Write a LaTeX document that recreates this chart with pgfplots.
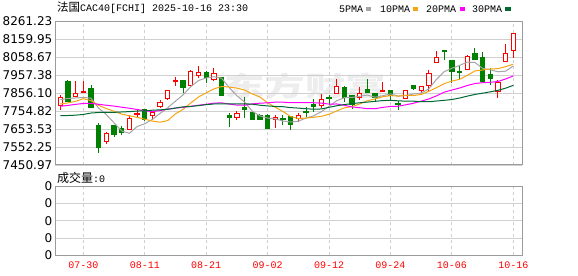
\documentclass[border=0pt]{standalone}
\usepackage{fontspec}
\setmainfont{DejaVu Sans}
\newfontfamily\cjk{Noto Sans CJK SC}
\newfontfamily\mono{Liberation Mono}
\usepackage{pgfplots}
\usepackage{pgfplotstable}
\pgfplotsset{compat=1.18}

\definecolor{upred}{RGB}{255,0,0}
\definecolor{dngreen}{RGB}{0,128,0}
\definecolor{ma5}{RGB}{165,165,165}
\definecolor{ma10}{RGB}{245,165,20}
\definecolor{ma20}{RGB}{255,0,255}
\definecolor{ma30}{RGB}{0,105,50}
\definecolor{gridc}{RGB}{208,208,208}
\definecolor{framec}{RGB}{155,155,155}

\pgfplotstableread{
i o h l c s
-3 7787.4 7847.6 7763.0 7832.6 u
-2 7922.8 7930.3 7806.2 7810.0 d
-1 7836.3 7926.6 7834.4 7855.1 u
0 7860.8 7922.8 7860.8 7864.6 u
1 7879.6 7904.0 7772.4 7776.2 d
2 7674.7 7686.0 7518.6 7550.6 d
3 7584.4 7635.2 7571.2 7629.5 u
4 7670.9 7674.7 7610.7 7622.0 d
5 7657.7 7670.9 7622.0 7635.2 d
6 7652.0 7734.8 7648.3 7710.4 u
7 7734.8 7768.7 7716.0 7742.3 u
8 7763.0 7768.7 7701.0 7706.6 d
9 7731.0 7753.6 7706.6 7748.0 u
10 7780.0 7817.5 7772.4 7802.5 u
11 7825.0 7875.8 7819.4 7870.0 u
12 7922.8 7945.4 7898.4 7928.5 u
13 7928.5 7932.2 7857.0 7885.2 d
14 7898.4 7988.6 7894.6 7979.2 u
15 7956.6 8007.4 7941.6 7973.6 u
16 7973.6 7979.2 7913.4 7941.6 d
17 7930.3 7998.0 7922.8 7964.2 u
18 7945.4 7949.2 7840.1 7843.8 d
19 7727.3 7746.1 7667.2 7716.0 d
20 7716.0 7753.6 7704.7 7742.3 u
21 7776.2 7832.6 7716.0 7764.9 d
22 7744.2 7750.0 7702.8 7706.6 d
23 7731.0 7738.6 7704.7 7708.5 d
24 7731.0 7738.6 7652.1 7655.8 d
25 7704.7 7734.8 7659.6 7719.8 u
26 7710.4 7731.0 7674.7 7704.7 d
27 7721.7 7725.4 7648.3 7678.4 d
28 7710.4 7744.2 7691.6 7731.0 u
29 7753.6 7780.0 7719.8 7746.1 d
30 7789.3 7823.2 7749.9 7781.8 d
31 7787.4 7851.4 7772.4 7821.3 u
32 7830.7 7843.8 7791.2 7825.0 d
33 7855.1 7936.0 7851.4 7894.6 u
34 7889.0 7894.6 7806.2 7828.8 d
35 7840.1 7843.8 7768.7 7791.2 d
36 7828.8 7889.0 7819.4 7853.3 u
37 7874.0 7936.0 7855.1 7859.0 d
38 7851.4 7851.4 7810.0 7832.6 d
39 7866.4 7919.0 7862.6 7872.0 u
40 7872.0 7875.8 7813.8 7843.8 d
41 7798.7 7813.8 7763.0 7791.2 d
42 7827.0 7875.8 7825.0 7872.0 u
43 7900.3 7900.3 7875.8 7879.6 d
44 7870.0 7896.5 7857.0 7892.7 u
45 7898.4 7984.9 7870.0 7968.0 u
46 8030.0 8092.0 8028.1 8058.2 u
47 8095.8 8097.7 8045.0 8088.3 d
48 8039.4 8039.4 7913.4 7975.5 d
49 7979.2 8013.0 7932.2 7971.7 d
50 7988.6 8069.5 7984.9 8063.8 u
51 8077.0 8110.8 8041.3 8045.0 d
52 8054.4 8086.4 7913.4 7922.8 d
53 7958.5 7998.0 7904.0 7937.9 d
54 7866.4 7932.2 7828.8 7913.4 u
55 8035.6 8133.4 8030.0 8080.8 u
56 8097.7 8195.4 8054.4 8193.5 u
}\candles

\pgfplotsset{
  wicku/.style={draw=upred, line width=1bp, mark=none},
  wickd/.style={draw=dngreen, line width=1bp, mark=none},
  bodyu/.style={draw=upred, fill=white, line width=1bp, mark=none},
  bodyd/.style={draw=dngreen, fill=dngreen, line width=1bp, mark=none},
}

\begin{document}
\begin{tikzpicture}
\useasboundingbox (0,0) rectangle (578bp,-276bp);

% watermark
\node[anchor=center, text=black!7, xscale=1.5, font=\cjk\bfseries\fontsize{27bp}{27bp}\selectfont] at (305bp,-86bp) {东方财富};

% title
\node[anchor=west, inner sep=0pt] at (57bp,-8bp) {{\cjk\fontsize{11.5bp}{12bp}\selectfont 法国}{\mono\fontsize{10bp}{12bp}\selectfont CAC40[FCHI] 2025-10-16 23:30}};

% legend
\node[anchor=west, inner sep=0pt, font=\mono\fontsize{10bp}{12bp}\selectfont] at (339bp,-9bp) {5PMA};
\node[anchor=west, inner sep=0pt] at (366bp,-9.3bp) {\textcolor{ma5}{\rule{5bp}{4bp}}};
\node[anchor=west, inner sep=0pt, font=\mono\fontsize{10bp}{12bp}\selectfont] at (380bp,-9bp) {10PMA};
\node[anchor=west, inner sep=0pt] at (413bp,-9.3bp) {\textcolor{ma10}{\rule{5bp}{4bp}}};
\node[anchor=west, inner sep=0pt, font=\mono\fontsize{10bp}{12bp}\selectfont] at (426bp,-9bp) {20PMA};
\node[anchor=west, inner sep=0pt] at (460bp,-9.3bp) {\textcolor{ma20}{\rule{5bp}{4bp}}};
\node[anchor=west, inner sep=0pt, font=\mono\fontsize{10bp}{12bp}\selectfont] at (472bp,-9bp) {30PMA};
\node[anchor=west, inner sep=0pt] at (505bp,-9.3bp) {\textcolor{ma30}{\rule{6bp}{4bp}}};

% volume caption
\node[anchor=west, inner sep=0pt] at (57bp,-178bp) {{\cjk\fontsize{12bp}{12bp}\selectfont 成交量}{\mono\fontsize{10bp}{12bp}\selectfont :0}};

\begin{axis}[
  at={(55.3bp,-21.3bp)}, anchor=north west,
  scale only axis, width=467bp, height=143.7bp,
  xmin=-3.65, xmax=57.17, ymin=7450.97, ymax=8261.23,
  axis line style={framec, line width=1bp},
  xtick={0,8,16,24,32,40,48,56}, xticklabels={},
  ytick={7450.97,7552.25,7653.53,7754.82,7856.10,7957.38,8058.67,8159.95,8261.23},
  yticklabels={7450.97,7552.25,7653.53,7754.82,7856.10,7957.38,8058.67,8159.95,8261.23},
  yticklabel style={anchor=east, inner sep=0pt, xshift=-2.8bp, text=black, font=\fontsize{12bp}{12bp}\selectfont},
  grid=major,
  x grid style={gridc, dash pattern=on 3bp off 3bp, line width=0.9bp},
  y grid style={gridc, line width=0.9bp},
  major tick length=0pt, tick style={draw=none},
]
\pgfplotsinvokeforeach{0,...,59}{%
  \pgfplotstablegetelem{#1}{i}\of\candles \let\ci\pgfplotsretval
  \pgfplotstablegetelem{#1}{o}\of\candles \let\co\pgfplotsretval
  \pgfplotstablegetelem{#1}{h}\of\candles \let\ch\pgfplotsretval
  \pgfplotstablegetelem{#1}{l}\of\candles \let\cl\pgfplotsretval
  \pgfplotstablegetelem{#1}{c}\of\candles \let\cc\pgfplotsretval
  \pgfplotstablegetelem{#1}{s}\of\candles \let\cs\pgfplotsretval
  \pgfmathsetmacro\xl{\ci-0.28}%
  \pgfmathsetmacro\xr{\ci+0.28}%
  \edef\tmp{%
    \noexpand\addplot[wick\cs] coordinates {(\ci,\cl) (\ci,\ch)};%
    \noexpand\addplot[body\cs] coordinates {(\xl,\co) (\xr,\co) (\xr,\cc) (\xl,\cc)} -- cycle;%
  }\tmp
}
% MA5
\addplot[ma5, line width=1bp, mark=none] coordinates {
(-3,7819) (-2,7826) (-1,7829) (0,7832) (1,7827.7) (2,7771.3) (3,7735.2) (4,7688.6) (5,7642.7) (6,7629.5) (7,7667.9) (8,7683.3) (9,7708.5) (10,7742.0) (11,7773.9) (12,7811.1) (13,7846.8) (14,7893.1) (15,7927.3) (16,7941.6) (17,7948.8) (18,7940.5) (19,7887.8) (20,7841.6) (21,7806.2) (22,7754.7) (23,7727.7) (24,7715.6) (25,7711.1) (26,7699.1) (27,7693.4) (28,7697.9) (29,7716.0) (30,7728.4) (31,7751.7) (32,7781.0) (33,7813.8) (34,7830.3) (35,7832.2) (36,7838.6) (37,7845.4) (38,7833.0) (39,7841.6) (40,7852.1) (41,7839.7) (42,7842.3) (43,7851.7) (44,7855.9) (45,7880.7) (46,7934.1) (47,7977.4) (48,7996.5) (49,8012.3) (50,8031.5) (51,8028.9) (52,7995.8) (53,7988.2) (54,7976.6) (55,7980.0) (56,8009.7)
};
% MA10
\addplot[ma10, line width=1bp, mark=none] coordinates {
(-3,7795) (-2,7801) (-1,7810) (0,7825) (1,7814) (2,7787) (3,7769) (4,7754) (5,7738) (6,7728.6) (7,7719.6) (8,7709.3) (9,7698.5) (10,7692.3) (11,7701.7) (12,7739.5) (13,7765.1) (14,7800.8) (15,7834.6) (16,7857.8) (17,7879.9) (18,7893.7) (19,7890.5) (20,7884.4) (21,7873.9) (22,7851.7) (23,7834.1) (24,7801.7) (25,7776.4) (26,7752.7) (27,7724.1) (28,7712.8) (29,7715.8) (30,7719.8) (31,7725.4) (32,7737.2) (33,7755.9) (34,7773.2) (35,7780.3) (36,7795.2) (37,7813.2) (38,7823.4) (39,7836.0) (40,7842.2) (41,7839.2) (42,7843.9) (43,7842.4) (44,7848.7) (45,7866.4) (46,7886.9) (47,7909.8) (48,7924.1) (49,7934.1) (50,7956.1) (51,7981.5) (52,7986.6) (53,7992.4) (54,7994.5) (55,8005.7) (56,8019.3)
};
% MA20
\addplot[ma20, line width=1bp, mark=none] coordinates {
(-3,7782) (-2,7787) (-1,7793) (0,7798) (1,7799) (2,7793) (3,7788) (4,7783) (5,7777) (6,7771) (7,7764) (8,7757) (9,7752) (10,7758) (11,7766) (12,7772) (13,7776) (14,7782) (15,7788) (16,7793.2) (17,7799.8) (18,7801.5) (19,7794.5) (20,7788.4) (21,7787.8) (22,7795.6) (23,7799.6) (24,7801.3) (25,7805.5) (26,7805.2) (27,7802.0) (28,7803.2) (29,7803.1) (30,7802.1) (31,7799.7) (32,7794.5) (33,7795.0) (34,7787.4) (35,7778.3) (36,7773.9) (37,7768.6) (38,7768.1) (39,7775.9) (40,7781.0) (41,7782.3) (42,7790.5) (43,7799.1) (44,7810.9) (45,7823.4) (46,7841.0) (47,7861.5) (48,7873.8) (49,7885.0) (50,7899.1) (51,7910.3) (52,7915.2) (53,7917.4) (54,7921.6) (55,7936.1) (56,7953.1)
};
% MA30
\addplot[ma30, line width=1bp, mark=none] coordinates {
(-3,7729) (-2,7730) (-1,7732) (0,7736) (1,7744) (2,7747) (3,7748) (4,7748) (5,7750) (6,7752) (7,7755) (8,7757) (9,7760) (10,7762) (11,7765) (12,7772) (13,7779) (14,7781) (15,7786) (16,7791) (17,7795) (18,7796) (19,7796) (20,7796) (21,7796) (22,7794) (23,7788) (24,7784) (25,7781) (26,7779.7) (27,7774.5) (28,7771.9) (29,7768.3) (30,7765.5) (31,7767.0) (32,7776.2) (33,7785.0) (34,7791.9) (35,7797.1) (36,7801.9) (37,7805.7) (38,7809.9) (39,7814.1) (40,7815.5) (41,7812.8) (42,7810.9) (43,7810.8) (44,7807.9) (45,7807.7) (46,7811.6) (47,7815.7) (48,7820.1) (49,7828.6) (50,7839.3) (51,7848.7) (52,7855.9) (53,7863.5) (54,7872.1) (55,7884.2) (56,7900.4)
};
\end{axis}

\begin{axis}[
  at={(55.3bp,-186bp)}, anchor=north west,
  scale only axis, width=467bp, height=69.3bp,
  xmin=-3.65, xmax=57.17, ymin=0, ymax=4,
  axis line style={framec, line width=1bp},
  xtick={0,8,16,24,32,40,48,56},
  xticklabels={07-30,08-11,08-21,09-02,09-12,09-24,10-06,10-16},
  xticklabel style={anchor=north, inner sep=0pt, yshift=-6.5bp, text=upred, font=\mono\fontsize{10bp}{12bp}\selectfont},
  ytick={0,1,2,3,4}, yticklabels={0,0,0,0,0},
  yticklabel style={anchor=east, inner sep=0pt, xshift=-2.8bp, text=black, font=\fontsize{12bp}{12bp}\selectfont},
  grid=major,
  x grid style={gridc, dash pattern=on 3bp off 3bp, line width=0.9bp},
  y grid style={gridc, line width=0.9bp},
  major tick length=0pt, tick style={draw=none},
]
\addplot[draw=none, mark=none] coordinates {(0,0) (56,0)};
\end{axis}
\end{tikzpicture}
\end{document}
